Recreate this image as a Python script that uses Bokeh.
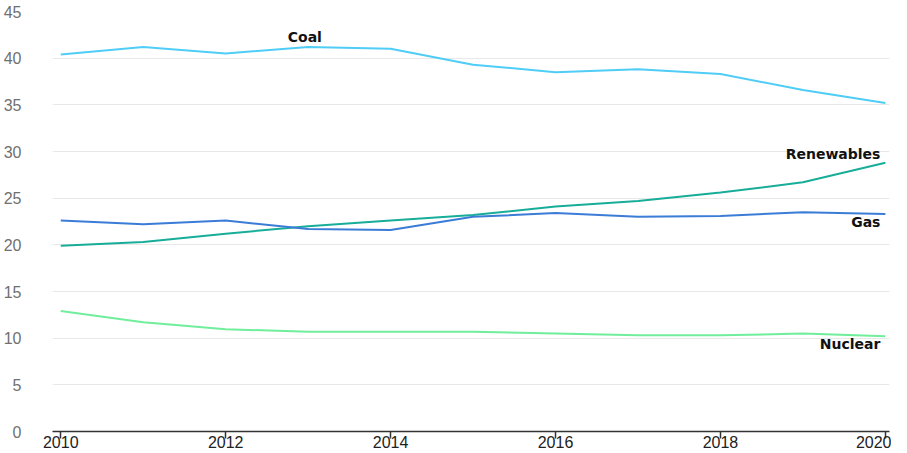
from bokeh.plotting import figure
from bokeh.models import Range1d, ColumnDataSource, FixedTicker, Label
from bokeh.embed import file_html
from bokeh.resources import INLINE

years = [2010, 2011, 2012, 2013, 2014, 2015, 2016, 2017, 2018, 2019, 2020]
coal = [40.4, 41.2, 40.5, 41.2, 41.0, 39.3, 38.5, 38.8, 38.3, 36.6, 35.2]
renewables = [19.9, 20.3, 21.2, 22.0, 22.6, 23.2, 24.1, 24.7, 25.6, 26.7, 28.8]
gas = [22.6, 22.2, 22.6, 21.7, 21.6, 23.0, 23.4, 23.0, 23.1, 23.5, 23.3]
nuclear = [12.9, 11.7, 10.95, 10.7, 10.7, 10.7, 10.5, 10.3, 10.3, 10.5, 10.2]

series_names = ["Coal", "Renewables", "Gas", "Nuclear"]
series_colors = ["#4fcdf7", "#17ad98", "#3b7cd6", "#70ee9c"]
label_x = [2012.96, 2019.94, 2019.94, 2019.94]
label_y = [41.4, 28.9, 21.6, 8.5]
label_align = ["center", "right", "right", "right"]

p = figure(width=891, height=450, output_backend="svg", toolbar_location=None,
           x_range=Range1d(2009.9, 2020.05), y_range=Range1d(0, 45.0),
           min_border_left=47, min_border_right=2, min_border_top=11, min_border_bottom=0)
p.outline_line_color = None
p.background_fill_color = "white"

for name, vals, col in zip(series_names, [coal, renewables, gas, nuclear], series_colors):
    src = ColumnDataSource(dict(x=years, y=vals))
    p.line("x", "y", source=src, line_color=col, line_width=2)

for name, lx, ly, al in zip(series_names, label_x, label_y, label_align):
    p.add_layout(Label(x=lx, y=ly, text=name, text_align=al, text_baseline="bottom",
                       text_font="DejaVu Sans", text_font_style="bold",
                       text_font_size="14px", text_color="#111111"))

p.yaxis.ticker = FixedTicker(ticks=[0, 5, 10, 15, 20, 25, 30, 35, 40, 45])
p.yaxis.axis_line_color = None
p.yaxis.major_tick_line_color = None
p.yaxis.minor_tick_line_color = None
p.yaxis.major_label_text_font = "Liberation Sans"
p.yaxis.major_label_text_font_size = "16px"
p.yaxis.major_label_text_color = "#707070"
p.yaxis.major_label_standoff = 25

p.xaxis.ticker = FixedTicker(ticks=[2010, 2012, 2014, 2016, 2018, 2020])
p.xaxis.axis_line_color = "#333333"
p.xaxis.axis_line_width = 1.5
p.xaxis.major_tick_line_color = "#333333"
p.xaxis.major_tick_line_width = 1.5
p.xaxis.major_tick_in = 0
p.xaxis.major_tick_out = 7
p.xaxis.minor_tick_line_color = None
p.xaxis.major_label_text_font = "Liberation Sans"
p.xaxis.major_label_text_font_size = "16px"
p.xaxis.major_label_text_color = "#222222"
p.xaxis.major_label_standoff = -3

p.xgrid.grid_line_color = None
p.ygrid.grid_line_color = "#e8e8e8"
p.ygrid.grid_line_width = 1

open("out.html", "w").write(file_html(p, INLINE))
